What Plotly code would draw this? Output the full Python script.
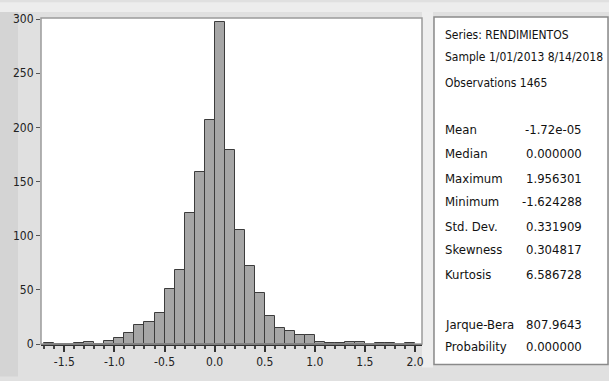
import plotly.graph_objects as go

bin_start = [-1.7, -1.6, -1.5, -1.4, -1.3, -1.2, -1.1, -1.0, -0.9, -0.8, -0.7, -0.6,
             -0.5, -0.4, -0.3, -0.2, -0.1, 0.0, 0.1, 0.2, 0.3, 0.4, 0.5, 0.6, 0.7,
             0.8, 0.9, 1.0, 1.1, 1.2, 1.3, 1.4, 1.5, 1.6, 1.7, 1.8, 1.9]
counts = [1, 0, 0, 1, 2, 0, 3, 6, 10, 18, 20, 29,
          51, 68, 121, 159, 207, 297, 179, 105, 72, 47, 26, 15, 12,
          8, 8, 2, 1, 1, 2, 2, 0, 1, 1, 0, 1]
x_ticks = [-1.5, -1.0, -0.5, 0.0, 0.5, 1.0, 1.5, 2.0]
x_tick_labels = ["-1.5", "-1.0", "-0.5", "0.0", "0.5", "1.0", "1.5", "2.0"]
y_ticks = [0, 50, 100, 150, 200, 250, 300]

header_lines = ["Series: RENDIMIENTOS", "Sample 1/01/2013 8/14/2018", "Observations 1465"]
stat_names = ["Mean", "Median", "Maximum", "Minimum", "Std. Dev.", "Skewness", "Kurtosis"]
stat_values = ["-1.72e-05", "0.000000", "1.956301", "-1.624288", "0.331909", "0.304817", "6.586728"]
test_names = ["Jarque-Bera", "Probability"]
test_values = ["807.9643", "0.000000"]

W, H = 609, 381
L, R, T, B = 41, 187, 16, 33
PW, PH = W - L - R, H - T - B

def px(xp):
    return (xp - L) / PW

def py(yp):
    return (H - B - yp) / PH

FONT = "DejaVu Sans Condensed, Liberation Sans Narrow, Arial Narrow, Liberation Sans, Arial, sans-serif"
TXT_SIZE = 13
HEAD_SIZE = 12

centers = [round(s + 0.05, 3) for s in bin_start]

fig = go.Figure()
fig.add_trace(go.Bar(
    x=centers, y=counts, width=0.1,
    marker=dict(color="#a6a6a6", line=dict(color="#3c3c3c", width=1)),
    hoverinfo="x+y",
))

shapes = []
shapes.append(dict(type="rect", xref="paper", yref="paper", x0=px(0), x1=px(18), y0=py(381), y1=py(10),
                   fillcolor="#d4d4d4", line=dict(width=0), layer="below"))
shapes.append(dict(type="rect", xref="paper", yref="paper", x0=px(0), x1=px(609), y0=py(10), y1=py(0),
                   fillcolor="#ededed", line=dict(width=0), layer="below"))
shapes.append(dict(type="rect", xref="paper", yref="paper", x0=px(422), x1=px(433), y0=py(372), y1=py(10),
                   fillcolor="#eeeeee", line=dict(width=0), layer="below"))
shapes.append(dict(type="rect", xref="paper", yref="paper", x0=0, x1=1, y0=0, y1=1,
                   line=dict(color="#9a9a9a", width=1.5), fillcolor="rgba(0,0,0,0)"))
shapes.append(dict(type="rect", xref="paper", yref="paper", x0=px(434), x1=px(608), y0=py(369), y1=py(15),
                   fillcolor="white", line=dict(color="#8a8a8a", width=1.5), layer="below"))

annotations = []
tx = px(443)
vx = px(584)

def add_text(txt, x, y, anchor, size):
    annotations.append(dict(text=txt, x=x, y=y, xref="paper", yref="paper",
                            xanchor=anchor, yanchor="middle", showarrow=False,
                            font=dict(family=FONT, size=size, color="#111111")))

head_y = [33, 56, 82]
for txt, yy in zip(header_lines, head_y):
    add_text(txt, tx, py(yy), "left", HEAD_SIZE)
stat_y = [130, 154, 179, 203, 228, 252, 277]
for name, val, yy in zip(stat_names, stat_values, stat_y):
    add_text(name, tx, py(yy), "left", TXT_SIZE)
    add_text(val, vx, py(yy), "right", TXT_SIZE)
test_y = [328, 351]
for name, val, yy in zip(test_names, test_values, test_y):
    add_text(name, tx, py(yy), "left", TXT_SIZE)
    add_text(val, vx, py(yy), "right", TXT_SIZE)

fig.update_layout(
    width=W, height=H,
    margin=dict(l=L, r=R, t=T, b=B, pad=0),
    paper_bgcolor="#e0e0e0",
    plot_bgcolor="white",
    showlegend=False,
    bargap=0,
    shapes=shapes,
    annotations=annotations,
    xaxis=dict(
        range=[-1.733, 2.07], tickvals=x_ticks, ticktext=x_tick_labels,
        ticks="outside", ticklen=6, tickcolor="#333333", tickwidth=1.5,
        showgrid=False, zeroline=False,
        showline=True, linecolor="#333333", linewidth=2,
        minor=dict(dtick=0.1, tick0=0, ticks="outside", ticklen=3, tickcolor="#444444", showgrid=False),
        tickfont=dict(family=FONT, size=12, color="#222222"),
        fixedrange=True,
    ),
    yaxis=dict(
        range=[0, 301], tickvals=y_ticks,
        ticks="outside", ticklen=4, tickcolor="#555555",
        showgrid=False, zeroline=False, showline=False,
        tickfont=dict(family=FONT, size=12, color="#222222"),
        fixedrange=True,
    ),
)

fig.write_html("out.html", config={"displayModeBar": False},
               post_script="document.body.style.margin='0';document.body.style.overflow='hidden';")
